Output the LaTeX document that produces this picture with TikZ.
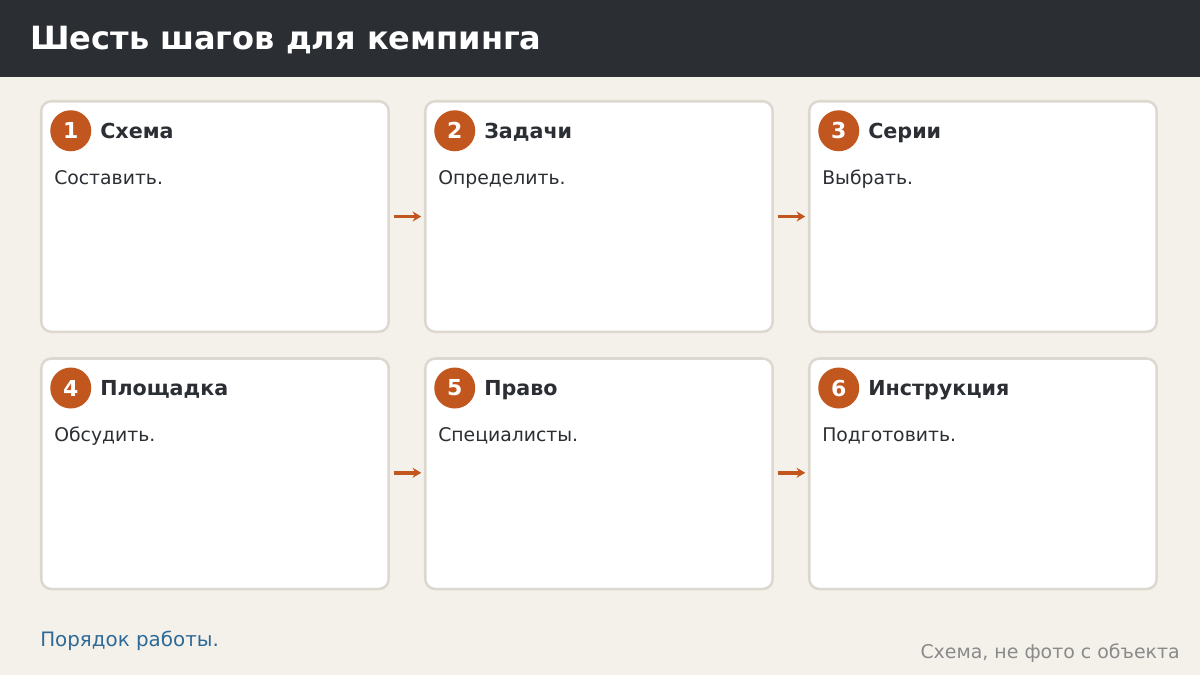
\documentclass[tikz,border=0pt]{standalone}
\usepackage{fontspec}
\setmainfont{DejaVu Sans}
\usetikzlibrary{positioning,arrows.meta}

\definecolor{headbg}{HTML}{2B2E33}
\definecolor{pagebg}{HTML}{F4F1EB}
\definecolor{cardline}{HTML}{DDD8CF}
\definecolor{accent}{HTML}{C1561E}
\definecolor{ink}{HTML}{2B2E33}
\definecolor{linkblue}{HTML}{2F6A97}
\definecolor{notegray}{HTML}{8A8A8A}

\tikzset{
  card/.style={draw=cardline,line width=1.9pt,fill=white,rounded corners=7.5pt,
    minimum width=260.6pt,minimum height=172.9pt,anchor=north west,inner sep=0pt,outer sep=0pt},
  num/.style={circle,fill=accent,text=white,minimum size=30.75pt,inner sep=0pt,
    font=\bfseries\fontsize{16.5}{19}\selectfont},
  head/.style={anchor=base west,text=ink,inner sep=0pt,font=\bfseries\fontsize{15.5}{18}\selectfont},
  body/.style={anchor=base west,text=ink,inner sep=0pt,font=\fontsize{14.1}{17}\selectfont},
  flow/.style={draw=accent,line width=2.6pt,-{Stealth[length=6.5pt,width=7.5pt]},
    shorten <=3.6pt,shorten >=3pt}
}

\begin{document}
\begin{tikzpicture}[x=0.75pt,y=-0.75pt]
  % page and header band
  \fill[pagebg] (0,0) rectangle (1200,675);
  \fill[headbg] (0,0) rectangle (1200,77);
  \node[anchor=base west,text=white,inner sep=0pt,font=\bfseries\fontsize{24}{28}\selectfont]
    (title) at (30,49.5) {Шесть шагов для кемпинга};
  % six cards
  \foreach \i/\x/\y/\hd/\txt in {1/41.25/101.25/Схема/Составить., 2/425.25/101.25/Задачи/Определить.,
      3/809.25/101.25/Серии/Выбрать., 4/41.25/358.5/Площадка/Обсудить.,
      5/425.25/358.5/Право/Специалисты., 6/809.25/358.5/Инструкция/Подготовить.}{
    \node[card] (c\i) at (\x,\y) {};
    \node[num] (n\i) at ([shift={(29.5,29.5)}]c\i.north west) {\i};
    \node[head] (h\i) at ([shift={(58.75,36.75)}]c\i.north west) {\hd};
    \node[body] (b\i) at ([shift={(12.75,82.75)}]c\i.north west) {\txt};
  }
  % arrows between cards
  \draw[flow] (c1.east) -- (c2.west);
  \draw[flow] (c2.east) -- (c3.west);
  \draw[flow] ([yshift=0.75pt]c4.east) -- ([yshift=0.75pt]c5.west);
  \draw[flow] ([yshift=0.75pt]c5.east) -- ([yshift=0.75pt]c6.west);
  % footer
  \node[anchor=base west,text=linkblue,inner sep=0pt,font=\fontsize{14.9}{18}\selectfont]
    (note) at (40,646) {Порядок работы.};
  \node[anchor=base east,text=notegray,inner sep=0pt,font=\fontsize{14.2}{17}\selectfont]
    (src) at (1180,658) {Схема, не фото с объекта};
\end{tikzpicture}
\end{document}
